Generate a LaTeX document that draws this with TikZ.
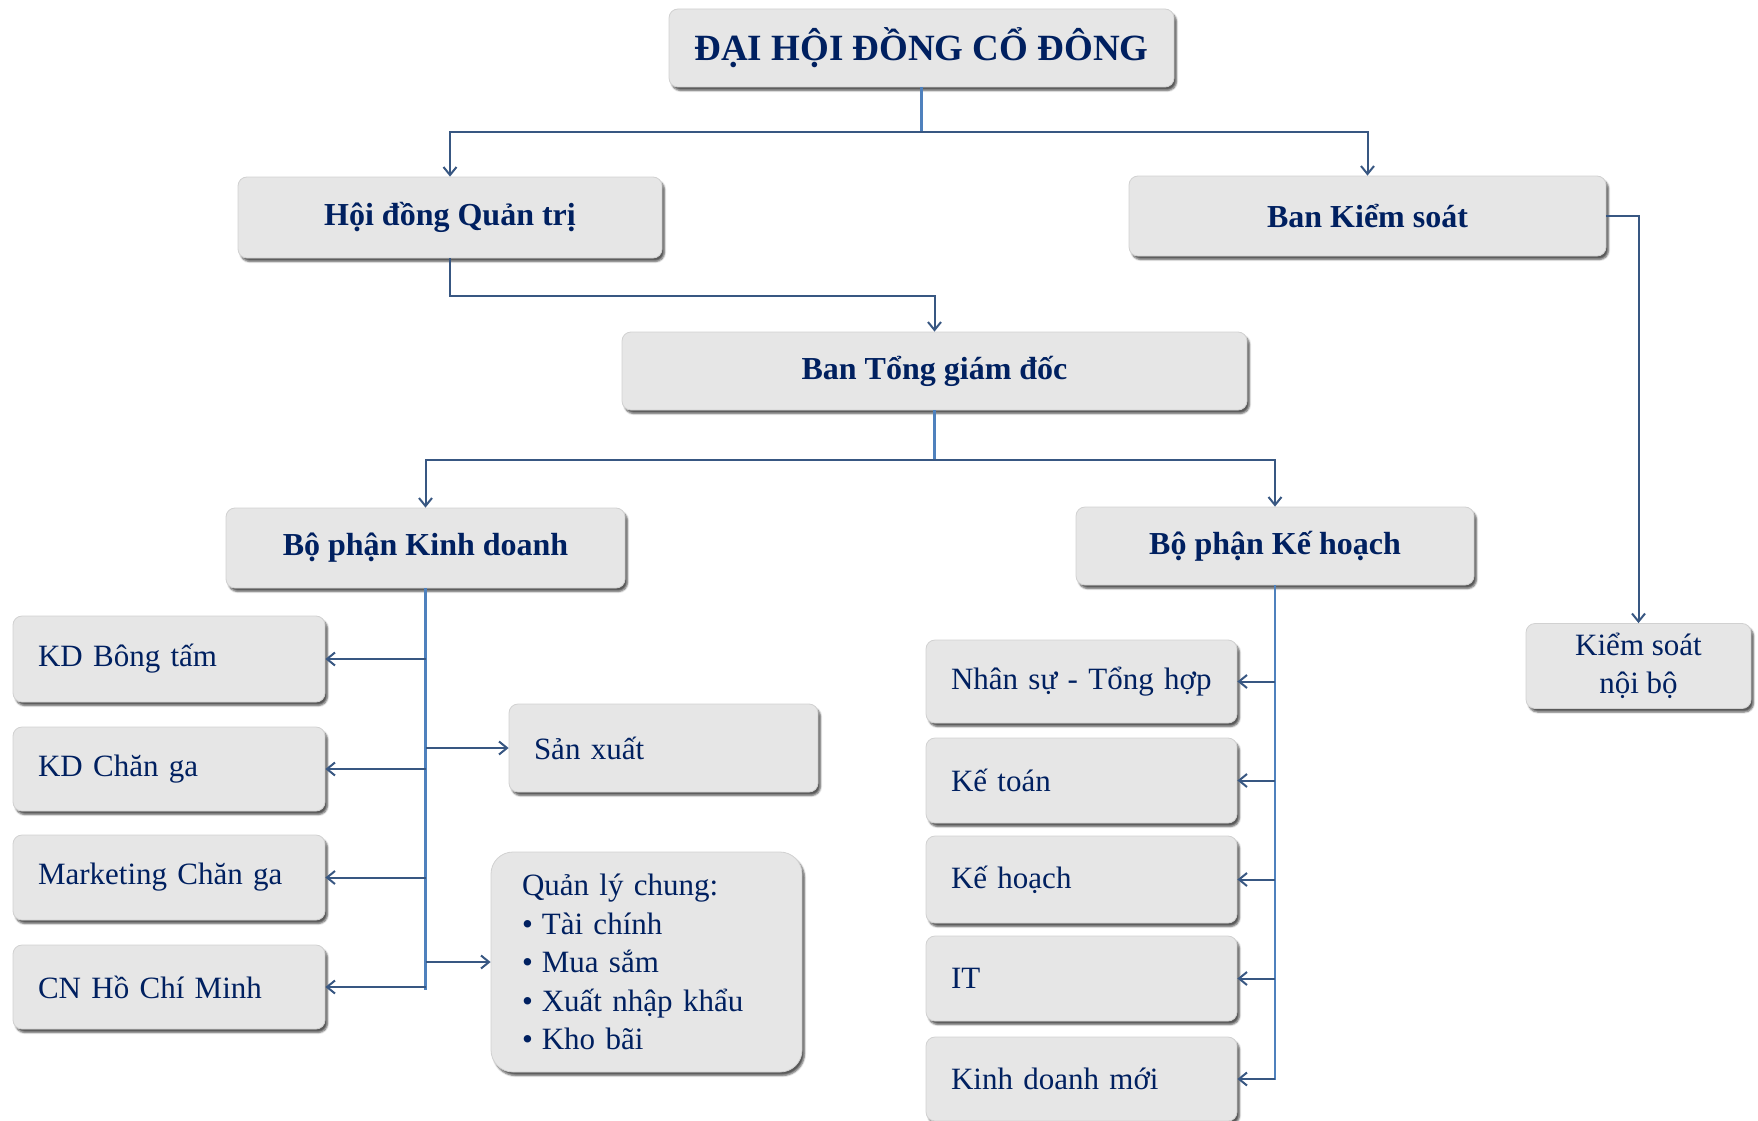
\documentclass[tikz,border=0pt]{standalone}
\usepackage{fontspec}
\setmainfont{Liberation Serif}
\usetikzlibrary{arrows.meta,shadows.blur}
\definecolor{navy}{RGB}{0,32,96}
\definecolor{boxgray}{RGB}{230,230,230}
\definecolor{linkblue}{RGB}{79,129,189}
\definecolor{darklink}{RGB}{56,87,130}
\newcommand{\bul}{\textbullet\hspace{9pt}}
\tikzset{
  box/.style={draw=white!82!black, line width=0.8pt, fill=boxgray,
    rounded corners=9pt, text=navy, inner sep=0pt,
    blur shadow={shadow xshift=2.5pt, shadow yshift=-3.5pt,
      shadow blur steps=5, shadow opacity=65}},
  headbox/.style={box, font=\fontsize{32}{38}\selectfont\bfseries, align=center},
  unitbox/.style={box, font=\fontsize{31}{38.5}\selectfont, align=left, inner xsep=25pt},
  trunk/.style={linkblue, line width=2.8pt},
  arr/.style={darklink, line width=2pt, -{Straight Barb[length=8pt,width=13pt]}},
}
\begin{document}
\begin{tikzpicture}[x=1pt,y=-1pt]
    \useasboundingbox (0,0) rectangle (1758,1121);
    % top level
    \node[headbox, font=\fontsize{37}{42}\selectfont\bfseries, minimum width=505pt, minimum height=78pt]
      (dhcd) at (921.5,48) {ĐẠI HỘI ĐỒNG CỔ ĐÔNG};
    \node[headbox, minimum width=424pt, minimum height=81pt] (hdqt) at (450,217.5) {Hội đồng Quản trị};
    \node[headbox, minimum width=477pt, minimum height=80pt] (bks) at (1367.5,216) {Ban Kiểm soát};
    \node[headbox, minimum width=625pt, minimum height=78pt] (btgd) at (934.5,371) {Ban Tổng giám đốc};
    \node[headbox, minimum width=399pt, minimum height=80pt] (bpkd) at (425.5,548) {Bộ phận Kinh doanh};
    \node[headbox, minimum width=398pt, minimum height=78pt] (bpkh) at (1275,546) {Bộ phận Kế hoạch};
    \node[unitbox, align=center, inner xsep=0pt, minimum width=225pt, minimum height=85pt]
      (ksnb) at (1638.5,666) {Kiểm soát\\nội bộ};
    % Kinh doanh side
    \node[unitbox, text width=262pt, minimum height=86pt] (kdbt) at (169,659) {KD Bông tấm};
    \node[unitbox, text width=262pt, minimum height=84pt] (kdcg) at (169,769) {KD Chăn ga};
    \node[unitbox, text width=262pt, minimum height=85pt] (mkt) at (169,877.5) {Marketing Chăn ga};
    \node[unitbox, text width=262pt, minimum height=84pt] (cnhcm) at (169,987) {CN Hồ Chí Minh};
    \node[unitbox, text width=259pt, minimum height=88pt] (sx) at (663.5,748) {Sản xuất};
    \node[unitbox, rounded corners=22pt, inner xsep=31pt, text width=249pt, minimum height=220pt]
      (qlc) at (646.5,962) {Quản lý chung:\\\bul Tài chính\\\bul Mua sắm\\\bul Xuất nhập khẩu\\\bul Kho bãi};
    % Ke hoach side
    \node[unitbox, text width=261pt, minimum height=83pt] (nsth) at (1081.5,681.5) {Nhân sự - Tổng hợp};
    \node[unitbox, text width=261pt, minimum height=85pt] (kt) at (1081.5,780.5) {Kế toán};
    \node[unitbox, text width=261pt, minimum height=87pt] (kh) at (1081.5,879.5) {Kế hoạch};
    \node[unitbox, text width=261pt, minimum height=85pt] (it) at (1081.5,978.5) {IT};
    \node[unitbox, text width=261pt, minimum height=84pt] (kdm) at (1081.5,1079) {Kinh doanh mới};
    % links from the top
    \draw[trunk] (dhcd.south) -- ++(0,45) coordinate (j1);
    \draw[arr] (j1) -| (hdqt.north);
    \draw[arr] (j1) -| (bks.north);
    \draw[arr] (hdqt.south) -- ++(0,38) -| (btgd.north);
    \draw[arr] (bks.east) -| (ksnb.north);
    \draw[trunk] (btgd.south) -- ++(0,50) coordinate (j2);
    \draw[arr] (j2) -| (bpkd.north);
    \draw[arr] (j2) -| (bpkh.north);
    % Kinh doanh branches
    \draw[trunk] (bpkd.south) -- ++(0,402);
    \draw[arr] (bpkd.south |- kdbt.east) -- (kdbt.east);
    \draw[arr] (bpkd.south |- kdcg.east) -- (kdcg.east);
    \draw[arr] (bpkd.south |- mkt.east) -- (mkt.east);
    \draw[arr] (bpkd.south |- cnhcm.east) -- (cnhcm.east);
    \draw[arr] (bpkd.south |- sx.west) -- (sx.west);
    \draw[arr] (bpkd.south |- qlc.west) -- (qlc.west);
    % Ke hoach branches
    \draw[trunk] (bpkh.south) -- ++(0,495);
    \draw[arr] (bpkh.south |- nsth.east) -- (nsth.east);
    \draw[arr] (bpkh.south |- kt.east) -- (kt.east);
    \draw[arr] (bpkh.south |- kh.east) -- (kh.east);
    \draw[arr] (bpkh.south |- it.east) -- (it.east);
    \draw[arr] (bpkh.south |- kdm.east) -- (kdm.east);
\end{tikzpicture}
\end{document}
